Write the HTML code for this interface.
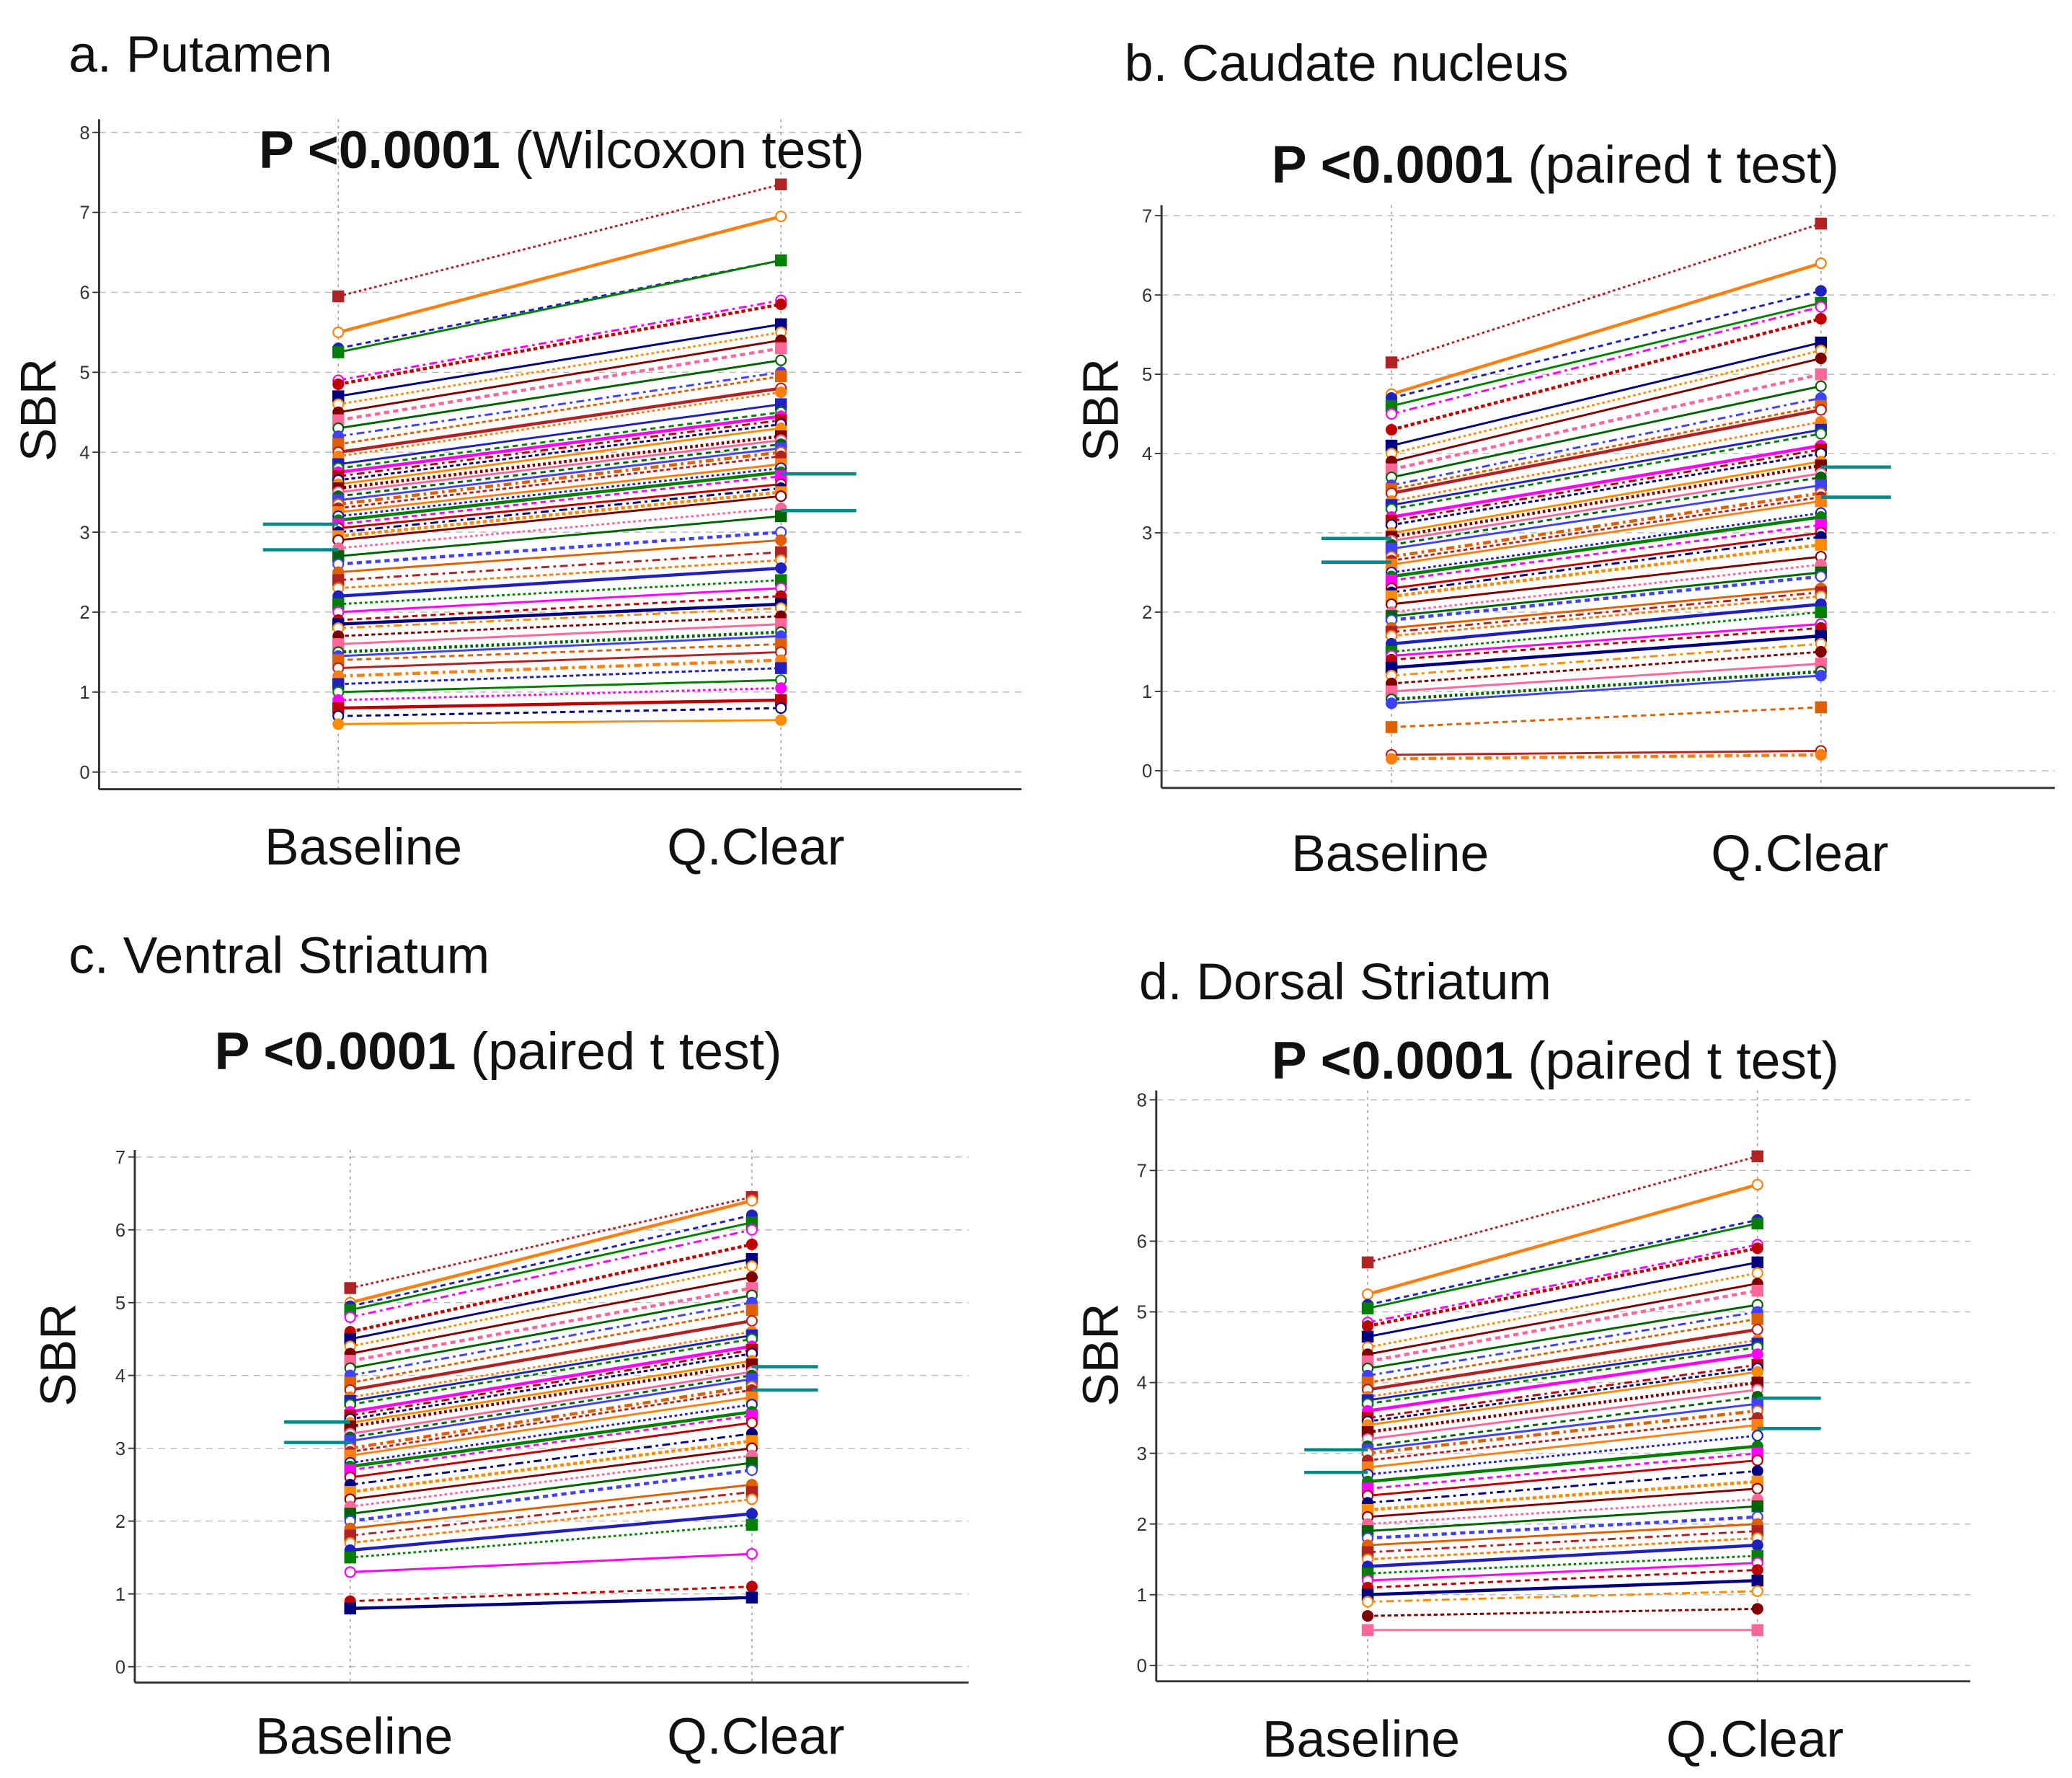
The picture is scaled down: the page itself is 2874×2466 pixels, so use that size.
<!DOCTYPE html>
<html><head><meta charset="utf-8"><style>
html,body{margin:0;padding:0;background:#fff;}
svg{display:block;}
text{font-family:"Liberation Sans",sans-serif;}
</style></head>
<body>
<svg id="fig" width="2874" height="2466" viewBox="0 0 1568 1345" xmlns="http://www.w3.org/2000/svg"></svg>
<script>
// Panel a: Putamen
const aBase=[5.95,5.5,5.3,5.25,4.9,4.85,4.7,4.6,4.5,4.4,4.3,4.2,4.1,4.0,3.95,3.85,3.8,3.75,3.7,3.65,3.6,3.55,3.5,3.45,3.4,3.35,3.3,3.25,3.2,3.15,3.1,3.05,3.0,2.95,2.9,2.8,2.7,2.6,2.5,2.4,2.3,2.2,2.1,2.0,1.9,1.85,1.8,1.7,1.6,1.5,1.45,1.4,1.3,1.2,1.1,1.0,0.9,0.8,0.7,0.6];
const aQ=[7.35,6.95,6.4,6.4,5.9,5.85,5.6,5.5,5.4,5.3,5.15,5.0,4.95,4.8,4.75,4.6,4.5,4.45,4.4,4.35,4.3,4.2,4.15,4.1,4.05,4.0,3.95,3.85,3.8,3.75,3.7,3.6,3.55,3.5,3.45,3.3,3.2,3.0,2.9,2.75,2.65,2.55,2.4,2.3,2.2,2.1,2.05,1.95,1.85,1.75,1.7,1.6,1.5,1.4,1.3,1.15,1.05,0.9,0.8,0.65];
const aMeans=[3.1,2.78];const aMeansQ=[3.73,3.27];
const aTicks=[0,1,2,3,4,5,6,7,8];
// Panel b: Caudate
const bBase=[5.15,4.75,4.7,4.6,4.5,4.3,4.1,4.0,3.9,3.8,3.7,3.6,3.55,3.5,3.4,3.35,3.3,3.2,3.15,3.1,3.0,2.95,2.9,2.85,2.8,2.7,2.65,2.6,2.5,2.45,2.4,2.3,2.25,2.2,2.1,2.0,1.95,1.9,1.8,1.75,1.7,1.6,1.5,1.45,1.4,1.3,1.2,1.1,1.0,0.9,0.85,0.55,0.2,0.15];
const bQ=[6.9,6.4,6.05,5.9,5.85,5.7,5.4,5.3,5.2,5.0,4.85,4.7,4.6,4.55,4.4,4.3,4.25,4.1,4.05,4.0,3.9,3.85,3.75,3.7,3.6,3.5,3.45,3.4,3.25,3.2,3.1,3.0,2.95,2.85,2.7,2.6,2.5,2.45,2.3,2.25,2.2,2.1,2.0,1.85,1.8,1.7,1.6,1.5,1.35,1.25,1.2,0.8,0.25,0.2];
const bMeans=[2.93,2.63];const bMeansQ=[3.83,3.45];
const bTicks=[0,1,2,3,4,5,6,7];
// Panel c: Ventral Striatum
const cBase=[5.2,5.0,4.95,4.9,4.8,4.6,4.5,4.4,4.3,4.2,4.1,4.0,3.9,3.8,3.7,3.65,3.6,3.5,3.45,3.4,3.35,3.3,3.2,3.15,3.1,3.0,2.95,2.9,2.8,2.75,2.7,2.6,2.5,2.4,2.3,2.2,2.1,2.0,1.9,1.8,1.7,1.6,1.5,1.3,0.9,0.8];
const cQ=[6.45,6.4,6.2,6.1,6.0,5.8,5.6,5.5,5.35,5.2,5.1,5.0,4.9,4.75,4.6,4.55,4.5,4.4,4.35,4.3,4.2,4.15,4.05,4.0,3.95,3.85,3.8,3.7,3.6,3.5,3.45,3.35,3.2,3.1,3.0,2.9,2.8,2.7,2.5,2.4,2.3,2.1,1.95,1.55,1.1,0.95];
const cMeans=[3.36,3.08];const cMeansQ=[4.12,3.8];
const cTicks=[0,1,2,3,4,5,6,7];
// Panel d: Dorsal Striatum
const dBase=[5.7,5.25,5.1,5.05,4.85,4.8,4.65,4.5,4.4,4.3,4.2,4.1,4.0,3.9,3.8,3.75,3.7,3.6,3.5,3.45,3.4,3.3,3.2,3.1,3.05,3.0,2.9,2.8,2.7,2.6,2.5,2.4,2.3,2.2,2.1,2.0,1.9,1.8,1.7,1.6,1.5,1.4,1.3,1.2,1.1,1.0,0.9,0.7,0.5];
const dQ=[7.2,6.8,6.3,6.25,5.95,5.9,5.7,5.55,5.4,5.3,5.1,5.0,4.9,4.75,4.6,4.55,4.5,4.4,4.25,4.2,4.15,4.0,3.9,3.8,3.7,3.6,3.5,3.4,3.25,3.1,3.0,2.9,2.75,2.6,2.5,2.35,2.25,2.1,2.0,1.9,1.8,1.7,1.55,1.45,1.35,1.2,1.05,0.8,0.5];
const dMeans=[3.05,2.73];const dMeansQ=[3.78,3.35];
const dTicks=[0,1,2,3,4,5,6,7,8];
const xCats=["Baseline","Q.Clear"];

const NS="http://www.w3.org/2000/svg";
const svg=document.getElementById('fig');
function mk(tag,attrs,parent){const e=document.createElementNS(NS,tag);for(const k in attrs)e.setAttribute(k,attrs[k]);(parent||svg).appendChild(e);return e;}
const colors=['#b22222','#ff7f0e','#2020c0','#008000','#ff00ff','#c00000','#000080','#ff8c00','#800000','#ff6699','#006400','#4040ff','#e06000'];
const dashes=['2,2','','4,3','','6,3,2,3','3,2',''];

function panel(p){
  const g=mk('g',{});
  
  
  const y=v=>p.y0-(v)*p.unit;
  p.ticks.forEach(t=>{
    const l=mk('line',{x1:p.left,x2:p.right,y1:y(t),y2:y(t),stroke:'#bbb','stroke-width':0.8,'stroke-dasharray':'5,4'},g);
    
    const tl=mk('line',{x1:p.left-5,x2:p.left,y1:y(t),y2:y(t),stroke:'#333','stroke-width':1},g);
    
    const tx=mk('text',{x:p.left-7,y:y(t)+5,'text-anchor':'end','font-size':14,fill:'#333'},g);
    tx.textContent=t;
  });
  [p.xb,p.xq].forEach(x=>{
    const l=mk('line',{x1:x,x2:x,y1:p.top,y2:p.bottom,stroke:'#999','stroke-width':0.8,'stroke-dasharray':'2,3'},g);
    
  });
  p.base.forEach((b,i)=>{
    const q=p.q[i];const c=colors[i%colors.length];
    const ln=mk('line',{x1:p.xb,y1:y(b),x2:p.xq,y2:y(q),stroke:c,'stroke-width':(i%4==1?2.4:1.6),'stroke-dasharray':dashes[i%dashes.length]},g);
    
    [[p.xb,b],[p.xq,q]].forEach(([x,v])=>{
      let m;
      if(i%3==0){m=mk('rect',{x:x-4,y:y(v)-4,width:8,height:8,fill:c,stroke:c},g);}
      else{m=mk('circle',{cx:x,cy:y(v),r:3.8,fill:(i%3==1?'#fff':c),stroke:c,'stroke-width':1.2},g);}
      
    });
  });
  p.means.forEach(v=>{const l=mk('line',{x1:p.xb-p.mw,x2:p.xb,y1:y(v),y2:y(v),stroke:'#008b8b','stroke-width':2.5},g);
    });
  p.meansQ.forEach(v=>{const l=mk('line',{x1:p.xq,x2:p.xq+p.mw,y1:y(v),y2:y(v),stroke:'#008b8b','stroke-width':2.5},g);
    });
  const ya=mk('line',{x1:p.left,x2:p.left,y1:p.top,y2:p.bottom,stroke:'#333','stroke-width':1.6},g);
  
  const xa=mk('line',{x1:p.left,x2:p.right,y1:p.bottom,y2:p.bottom,stroke:'#333','stroke-width':1.6},g);
  
  const t=mk('text',{x:p.tx,y:p.ty,'font-size':39,fill:'#111'},g);t.textContent=p.title;
  
  const pt=mk('text',{x:p.px,y:p.py,'font-size':40,'text-anchor':'middle',fill:'#111'},g);
  const b=mk('tspan',{'font-weight':'bold'},pt);b.textContent='P <0.0001';
  const r=mk('tspan',{},pt);r.textContent=' '+p.test;
  
  const s=mk('text',{x:p.sx,y:p.sy,'font-size':38,'text-anchor':'middle',fill:'#111',transform:`rotate(-90 ${p.sx} ${p.sy})`},g);s.textContent='SBR';
  
  [[p.lb,xCats[0]],[p.lq,xCats[1]]].forEach(([x,txt])=>{
    const e=mk('text',{x:x,y:p.ly,'font-size':39,'text-anchor':'middle',fill:'#111'},g);e.textContent=txt;
    
  });
}
panel({id:'putamen',title:'a. Putamen',tx:52,ty:54,left:75,right:773,top:90,bottom:597,y0:584,unit:60.5,xb:256,xq:591,mw:57,
  base:aBase,q:aQ,means:aMeans,meansQ:aMeansQ,ticks:aTicks,px:425,py:127,test:'(Wilcoxon test)',sx:42,sy:310,lb:275,lq:572,ly:654});
panel({id:'caudate',title:'b. Caudate nucleus',tx:851,ty:61,left:879,right:1555,top:155,bottom:596,y0:583,unit:60,xb:1053,xq:1378,mw:53,
  base:bBase,q:bQ,means:bMeans,meansQ:bMeansQ,ticks:bTicks,px:1177,py:138,test:'(paired t test)',sx:846,sy:310,lb:1052,lq:1362,ly:659});
panel({id:'ventral-striatum',title:'c. Ventral Striatum',tx:52,ty:736,left:102,right:733,top:870,bottom:1273,y0:1261,unit:55.1,xb:265,xq:569,mw:50,
  base:cBase,q:cQ,means:cMeans,meansQ:cMeansQ,ticks:cTicks,px:377,py:809,test:'(paired t test)',sx:57,sy:1025,lb:268,lq:572,ly:1327});
panel({id:'dorsal-striatum',title:'d. Dorsal Striatum',tx:862,ty:756,left:875,right:1491,top:825,bottom:1272,y0:1260,unit:53.5,xb:1035,xq:1330,mw:48,
  base:dBase,q:dQ,means:dMeans,meansQ:dMeansQ,ticks:dTicks,px:1177,py:816,test:'(paired t test)',sx:846,sy:1025,lb:1030,lq:1328,ly:1329});
</script>
</body></html>
